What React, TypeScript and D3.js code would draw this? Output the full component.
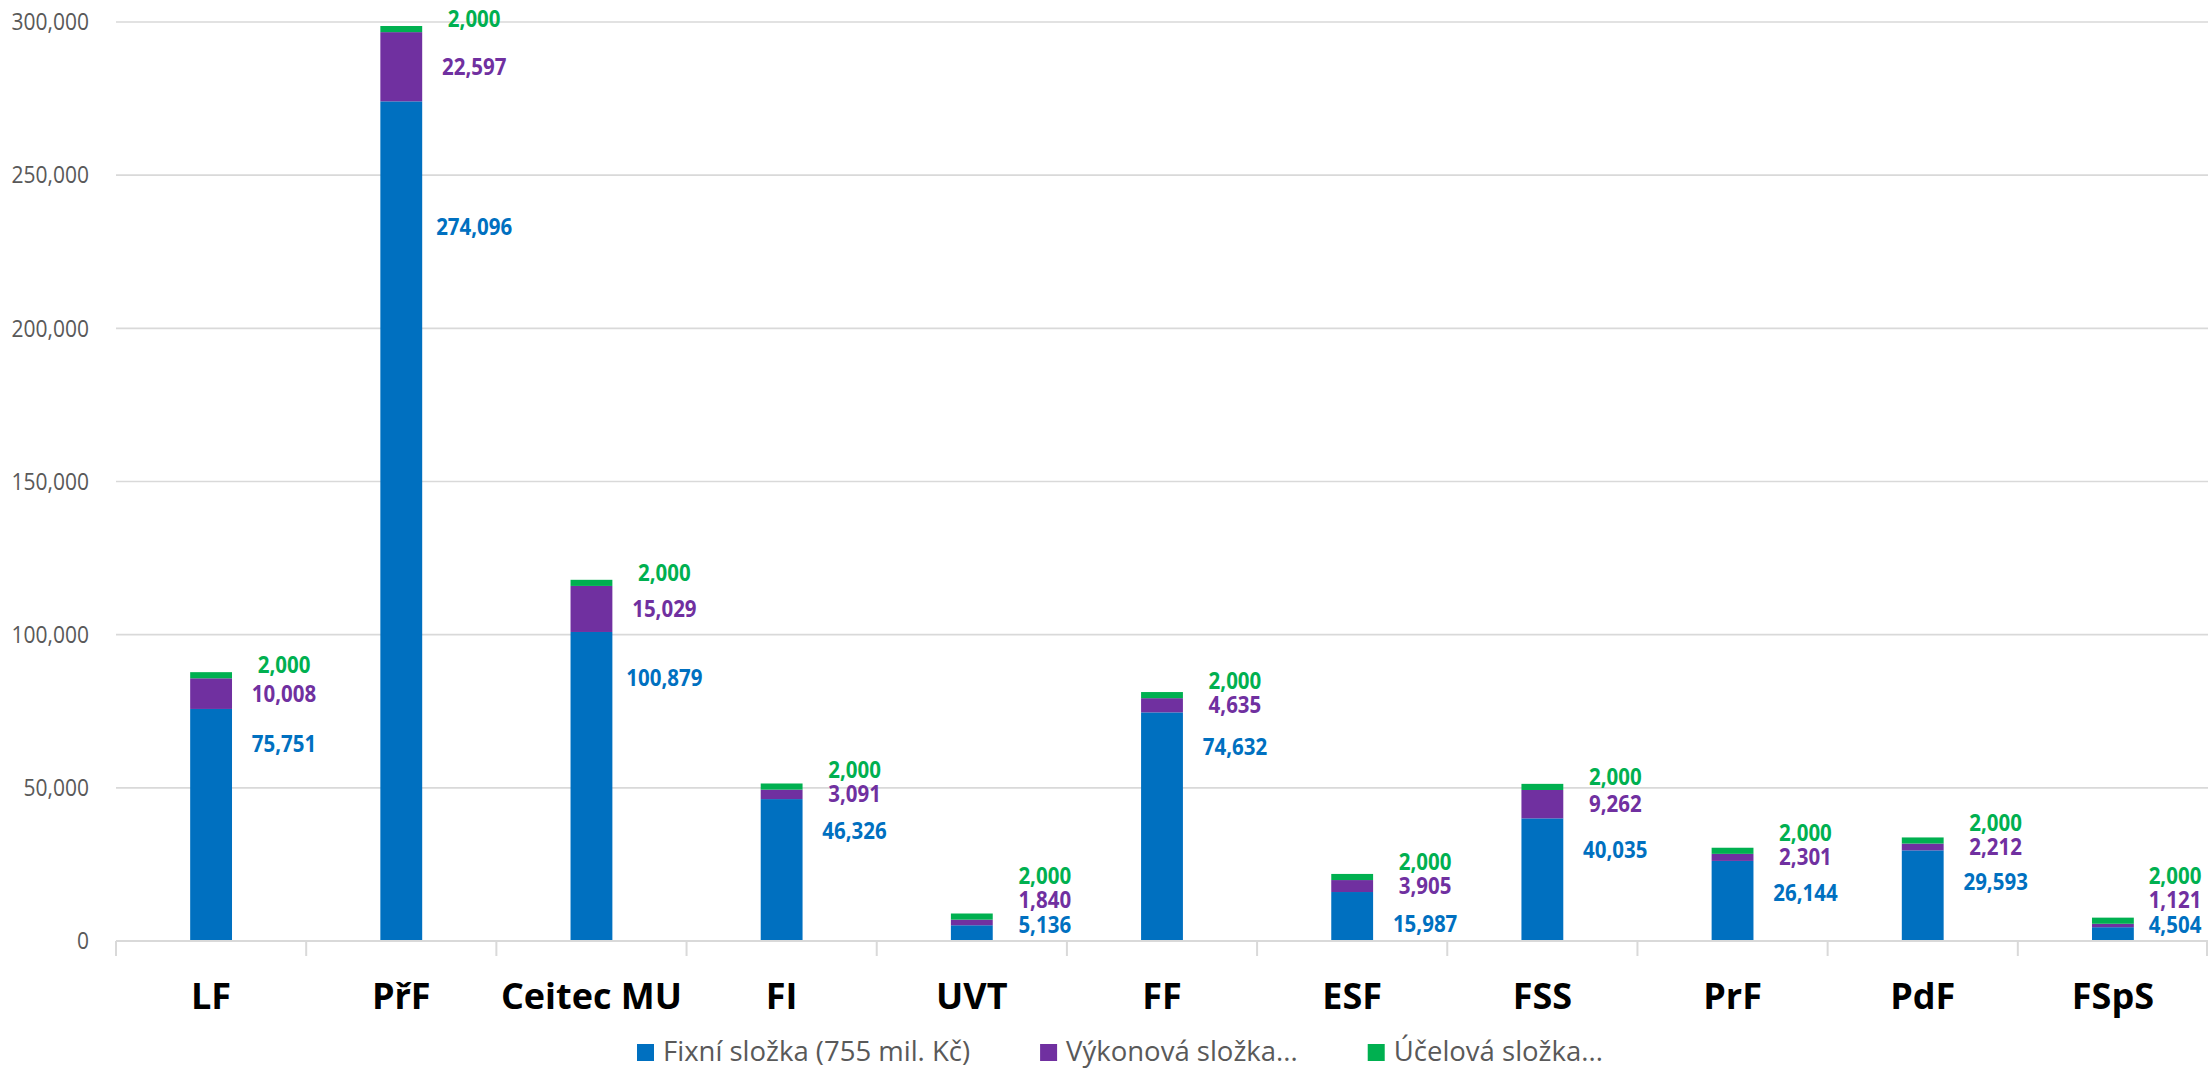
import React, { useEffect, useRef } from "react";
import * as d3 from "d3";

const categories = ["LF", "PřF", "Ceitec MU", "FI", "UVT", "FF", "ESF", "FSS", "PrF", "PdF", "FSpS"];
const fixedValues = [75751, 274096, 100879, 46326, 5136, 74632, 15987, 40035, 26144, 29593, 4504];
const performanceValues = [10008, 22597, 15029, 3091, 1840, 4635, 3905, 9262, 2301, 2212, 1121];
const purposeValues = [2000, 2000, 2000, 2000, 2000, 2000, 2000, 2000, 2000, 2000, 2000];
const seriesNames = ["Fixní složka (755 mil. Kč)", "Výkonová složka...", "Účelová složka..."];
const seriesColors = ["#0070C0", "#7030A0", "#00B050"];
const yTicks = [0, 50000, 100000, 150000, 200000, 250000, 300000];

const W = 2208;
const H = 1068;
const PLOT_LEFT = 116;
const BASE_Y = 941;
const TOP_Y = 22;
const FONT = "'Open Sans', 'Noto Sans', sans-serif";

export default function App() {
  const ref = useRef<SVGSVGElement>(null);

  useEffect(() => {
    const svg = d3.select(ref.current);
    svg.selectAll("*").remove();

    const x = d3.scaleBand<string>().domain(categories).range([PLOT_LEFT, W]).padding(0);
    const y = d3.scaleLinear().domain([0, 300000]).range([BASE_Y, TOP_Y]);
    const fmt = d3.format(",");

    // gridlines
    svg.append("g")
      .selectAll("line")
      .data(yTicks.slice(1))
      .join("line")
      .attr("x1", PLOT_LEFT)
      .attr("x2", W)
      .attr("y1", (d) => y(d))
      .attr("y2", (d) => y(d))
      .attr("stroke", "#d9d9d9")
      .attr("stroke-width", 1.6);

    // y labels
    svg.append("g")
      .selectAll("text")
      .data(yTicks)
      .join("text")
      .attr("transform", (d) => `translate(89,${y(d)}) scale(1,1.13)`)
      .attr("dy", "0.35em")
      .attr("text-anchor", "end")
      .attr("font-family", FONT)
      .attr("font-size", 21)
      .attr("fill", "#595959")
      .text((d) => fmt(d));

    // bars
    const data = categories.map((c, i) => ({
      cat: c,
      fixed: fixedValues[i],
      perf: performanceValues[i],
      purpose: purposeValues[i],
    }));
    const stack = d3.stack<any>().keys(["fixed", "perf", "purpose"]);
    const layers = stack(data);
    const bw = x.bandwidth();
    const barW = bw * 0.22;
    layers.forEach((layer, li) => {
      svg.append("g")
        .attr("fill", seriesColors[li])
        .selectAll("rect")
        .data(layer)
        .join("rect")
        .attr("x", (d: any) => (x(d.data.cat) as number) + bw / 2 - barW / 2)
        .attr("width", barW)
        .attr("y", (d) => y(d[1]))
        .attr("height", (d) => y(d[0]) - y(d[1]));
    });

    // x axis line and ticks
    svg.append("line")
      .attr("x1", PLOT_LEFT)
      .attr("x2", W)
      .attr("y1", BASE_Y)
      .attr("y2", BASE_Y)
      .attr("stroke", "#d9d9d9")
      .attr("stroke-width", 2);
    const boundaries = categories.map((c) => x(c) as number).concat([W - 1]);
    svg.append("g")
      .selectAll("line")
      .data(boundaries)
      .join("line")
      .attr("x1", (d) => d)
      .attr("x2", (d) => d)
      .attr("y1", BASE_Y)
      .attr("y2", BASE_Y + 15)
      .attr("stroke", "#d9d9d9")
      .attr("stroke-width", 2);

    // category labels
    svg.append("g")
      .selectAll("text")
      .data(categories)
      .join("text")
      .attr("x", (d) => (x(d) as number) + bw / 2)
      .attr("y", 1009)
      .attr("text-anchor", "middle")
      .attr("font-family", FONT)
      .attr("font-size", 36)
      .attr("font-weight", 700)
      .attr("fill", "#000")
      .text((d) => d);

    // data labels
    const lg = svg.append("g")
      .attr("font-family", FONT)
      .attr("font-size", 20.5)
      .attr("font-weight", 700)
      .attr("text-anchor", "middle");
    data.forEach((d) => {
      const blueTop = y(d.fixed);
      const purpleTop = y(d.fixed + d.perf);
      const stackTop = y(d.fixed + d.perf + d.purpose);
      let purple = (blueTop + purpleTop) / 2;
      let blue = Math.max(blueTop + 32, purple + 30, blueTop + 0.15 * (BASE_Y - blueTop));
      if (blue > BASE_Y - 16) {
        blue = BASE_Y - 16;
        purple = Math.min(purple, blue - 25);
      }
      const green = Math.min(stackTop - 7, purple - 24);
      const barRight = (x(d.cat) as number) + bw / 2 + barW / 2;
      const cx = Math.min(barRight + 52, W - 33);
      const items = [
        { v: d.fixed, yy: blue, c: seriesColors[0] },
        { v: d.perf, yy: purple, c: seriesColors[1] },
        { v: d.purpose, yy: green, c: seriesColors[2] },
      ];
      items.forEach((it) => {
        lg.append("text")
          .attr("transform", `translate(${cx},${it.yy}) scale(1,1.12)`)
          .attr("dy", "0.35em")
          .attr("fill", it.c)
          .text(fmt(it.v));
      });
    });

    // legend
    const leg = svg.append("g");
    let lx = 637;
    seriesNames.forEach((name, i) => {
      leg.append("rect")
        .attr("x", lx)
        .attr("y", 1044)
        .attr("width", 17)
        .attr("height", 17)
        .attr("fill", seriesColors[i]);
      const t = leg.append("text")
        .attr("x", lx + 26)
        .attr("y", 1061)
        .attr("font-family", FONT)
        .attr("font-size", 27.5)
        .attr("fill", "#595959")
        .text(name);
      const tw = (t.node() as SVGTextElement).getComputedTextLength();
      lx = lx + 26 + tw + 70;
    });
  }, []);

  return (
    <svg
      ref={ref}
      width={W}
      height={H}
      style={{ position: "absolute", left: 0, top: 0, background: "#fff", display: "block" }}
    />
  );
}
